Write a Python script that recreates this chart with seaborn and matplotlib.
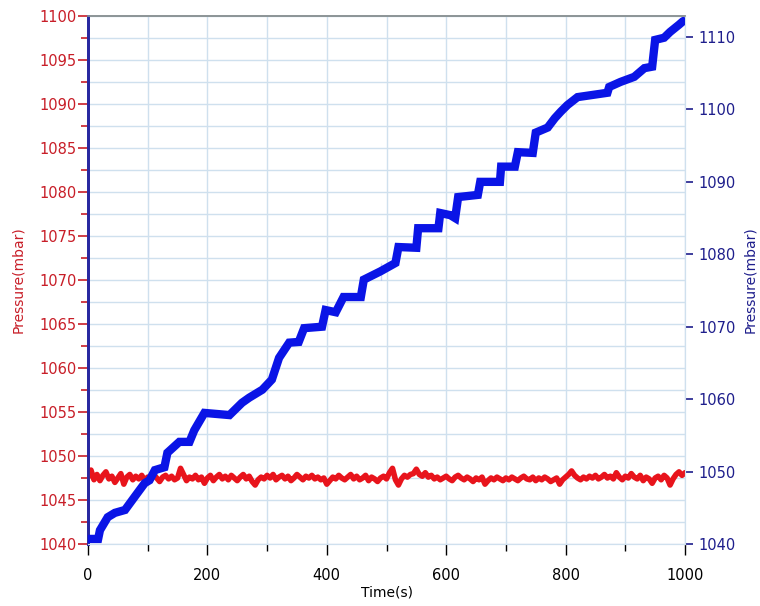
import numpy as np
import seaborn as sns
import matplotlib.pyplot as plt
from matplotlib.ticker import MultipleLocator

# red series (left axis), one reading every 5 s from 0 to 1000 s
red_time = np.arange(0, 1001, 5)
red_pressure = [
    1047.6, 1048.4, 1047.3, 1047.9, 1047.2, 1047.8, 1048.2, 1047.4, 1047.7, 1047.0,
    1047.5, 1048.0, 1046.8, 1047.6, 1047.9, 1047.3, 1047.7, 1047.4, 1047.8, 1047.2,
    1047.6, 1047.3, 1047.9, 1047.5, 1047.1, 1047.6, 1047.8, 1047.4, 1047.7, 1047.3,
    1047.5, 1048.6, 1047.9, 1047.2, 1047.6, 1047.4, 1047.8, 1047.3, 1047.6, 1046.9,
    1047.5, 1047.8, 1047.2, 1047.6, 1047.9, 1047.4, 1047.7, 1047.3, 1047.8, 1047.5,
    1047.2, 1047.6, 1047.9, 1047.4, 1047.7, 1047.1, 1046.7, 1047.3, 1047.6, 1047.4,
    1047.8, 1047.5, 1047.9, 1047.3, 1047.6, 1047.8, 1047.4, 1047.7, 1047.2, 1047.5,
    1047.9, 1047.6, 1047.3, 1047.7, 1047.5, 1047.8, 1047.4, 1047.6, 1047.3, 1047.5,
    1046.8, 1047.2, 1047.6, 1047.4, 1047.8, 1047.5, 1047.3, 1047.6, 1047.9, 1047.4,
    1047.7, 1047.3, 1047.5, 1047.8, 1047.2, 1047.6, 1047.4, 1047.1, 1047.5, 1047.7,
    1047.4, 1048.1, 1048.6, 1047.3, 1046.7, 1047.4, 1047.8, 1047.6, 1047.9, 1048.0,
    1048.5, 1047.9, 1047.7, 1048.1, 1047.6, 1047.8, 1047.4, 1047.6, 1047.3, 1047.5,
    1047.7, 1047.4, 1047.2, 1047.6, 1047.8, 1047.5, 1047.3, 1047.6, 1047.4, 1047.1,
    1047.5, 1047.3, 1047.6, 1046.8, 1047.2, 1047.5, 1047.3, 1047.6, 1047.4, 1047.2,
    1047.5, 1047.3, 1047.6, 1047.4, 1047.2, 1047.5, 1047.7, 1047.4, 1047.3, 1047.6,
    1047.2, 1047.5, 1047.3, 1047.6, 1047.4, 1047.1, 1047.3, 1047.5, 1046.8, 1047.3,
    1047.6, 1047.9, 1048.3, 1047.8, 1047.5, 1047.3, 1047.6, 1047.4, 1047.7, 1047.5,
    1047.8, 1047.4, 1047.6, 1047.9, 1047.5, 1047.7, 1047.4, 1048.1, 1047.6, 1047.3,
    1047.7, 1047.5, 1048.0, 1047.6, 1047.4, 1047.8, 1047.2, 1047.6, 1047.4, 1046.9,
    1047.5, 1047.7, 1047.3, 1047.8, 1047.5, 1046.7, 1047.4, 1047.9, 1048.2, 1047.8,
    1048.1,
]

# blue series (right axis), staircase corners
blue_time = [
    0, 17, 20, 33, 45, 62, 78, 95, 103, 112, 128, 133, 153, 170, 178, 195,
    237, 258, 270, 292, 308, 320, 337, 353, 362, 392, 398, 415, 428, 457,
    462, 490, 490, 515, 520, 550, 553, 587, 590, 607, 615, 620, 653, 657,
    690, 692, 715, 720, 745, 750, 770, 782, 792, 803, 820, 870, 873, 892,
    915, 932, 945, 950, 965, 975, 990, 997,
]
blue_pressure = [
    1040.7, 1040.7, 1041.9, 1043.7, 1044.3, 1044.7, 1046.5, 1048.4, 1048.8,
    1050.2, 1050.6, 1052.6, 1054.1, 1054.1, 1055.7, 1058.1, 1057.8, 1059.5,
    1060.2, 1061.3, 1062.7, 1065.7, 1067.8, 1067.9, 1069.8, 1070.0, 1072.3,
    1072.0, 1074.1, 1074.1, 1076.5, 1076.5, 1078.8, 1078.8, 1081.0, 1080.9,
    1083.6, 1083.6, 1085.7, 1085.4, 1085.0, 1087.9, 1088.2, 1090.0, 1090.0,
    1092.1, 1092.1, 1094.1, 1094.0, 1096.8, 1097.5, 1098.8, 1099.7, 1100.6,
    1101.7, 1102.3, 1103.1, 1103.8, 1104.5, 1105.7, 1105.9, 1109.6, 1109.9,
    1110.7, 1111.7, 1112.2,
]

RED = "#e8141c"
RED_TXT = "#c81e28"
BLUE = "#0a14e6"
BLUE_TXT = "#1e1e8c"
GRID = "#cfe0ee"

sns.set_style("white")
plt.rcParams["font.family"] = ["DejaVu Sans"]

fig = plt.figure(figsize=(7.6, 6.06), dpi=100)
ax = fig.add_axes([88 / 760, 62 / 606, 597 / 760, 528 / 606])
ax2 = ax.twinx()

sns.lineplot(x=red_time, y=red_pressure, ax=ax, color=RED, linewidth=4, zorder=3)
sns.lineplot(x=blue_time, y=blue_pressure, ax=ax2, color=BLUE, linewidth=6,
             solid_joinstyle="miter", zorder=3)

# left axis
ax.set_xlim(0, 1000)
ax.set_ylim(1040, 1100)
ax.yaxis.set_major_locator(MultipleLocator(5))
ax.yaxis.set_minor_locator(MultipleLocator(2.5))
ax.xaxis.set_major_locator(MultipleLocator(200))
ax.xaxis.set_minor_locator(MultipleLocator(100))
ax.grid(which="both", color=GRID, linewidth=1)
ax.set_axisbelow(True)
ax.tick_params(axis="y", which="major", direction="out", length=7, width=1.2,
               colors=RED_TXT, labelsize=10.5, left=True, pad=1)
ax.tick_params(axis="y", which="minor", direction="out", length=5, width=1.2,
               color=RED_TXT, left=True)
ax.tick_params(axis="x", which="major", direction="out", length=8, width=1,
               colors="black", labelsize=10.5, bottom=True, pad=9)
ax.tick_params(axis="x", which="minor", direction="out", length=5, width=1,
               color="black", bottom=True)
ax.set_ylabel("Pressure(mbar)", color=RED_TXT, fontsize=10, labelpad=10)
ax.set_xlabel("Time(s)", color="black", fontsize=10, labelpad=2)

# right axis
ax2.set_ylim(1040, 1112.9)
ax2.yaxis.set_major_locator(MultipleLocator(10))
ax2.tick_params(axis="y", direction="out", length=6, width=1.2,
                colors=BLUE_TXT, labelsize=10.5, right=True, pad=4)
ax2.set_ylabel("Pressure(mbar)", color=BLUE_TXT, fontsize=10, labelpad=5)
ax2.grid(False)

for a in (ax, ax2):
    a.spines["left"].set_color("#2828a0")
    a.spines["left"].set_linewidth(2)
    a.spines["top"].set_color("#8c9496")
    a.spines["top"].set_linewidth(1.2)
    a.spines["right"].set_color(GRID)
    a.spines["bottom"].set_color(GRID)

fig.savefig("out.png", dpi=100)
